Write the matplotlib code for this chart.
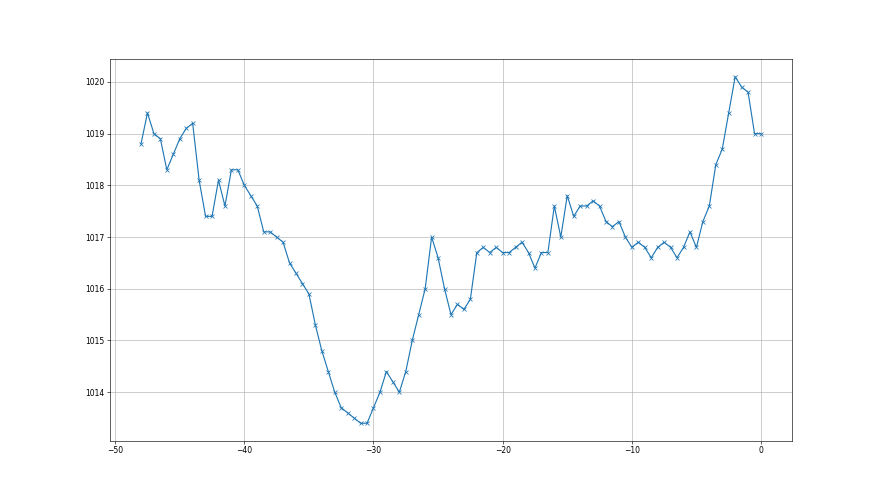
import matplotlib
matplotlib.use('Agg')
import matplotlib.pyplot as plt

# hours relative to now
hours = [-48.0, -47.5, -47.0, -46.5, -46.0, -45.5, -45.0, -44.5, -44.0, -43.5,
         -43.0, -42.5, -42.0, -41.5, -41.0, -40.5, -40.0, -39.5, -39.0, -38.5,
         -38.0, -37.5, -37.0, -36.5, -36.0, -35.5, -35.0, -34.5, -34.0, -33.5,
         -33.0, -32.5, -32.0, -31.5, -31.0, -30.5, -30.0, -29.5, -29.0, -28.5,
         -28.0, -27.5, -27.0, -26.5, -26.0, -25.5, -25.0, -24.5, -24.0, -23.5,
         -23.0, -22.5, -22.0, -21.5, -21.0, -20.5, -20.0, -19.5, -19.0, -18.5,
         -18.0, -17.5, -17.0, -16.5, -16.0, -15.5, -15.0, -14.5, -14.0, -13.5,
         -13.0, -12.5, -12.0, -11.5, -11.0, -10.5, -10.0, -9.5, -9.0, -8.5,
         -8.0, -7.5, -7.0, -6.5, -6.0, -5.5, -5.0, -4.5, -4.0, -3.5,
         -3.0, -2.5, -2.0, -1.5, -1.0, -0.5, 0.0]

# pressure readings (hPa)
pressure = [1018.8, 1019.4, 1019.0, 1018.9, 1018.3, 1018.6, 1018.9, 1019.1, 1019.2, 1018.1,
            1017.4, 1017.4, 1018.1, 1017.6, 1018.3, 1018.3, 1018.0, 1017.8, 1017.6, 1017.1,
            1017.1, 1017.0, 1016.9, 1016.5, 1016.3, 1016.1, 1015.9, 1015.3, 1014.8, 1014.4,
            1014.0, 1013.7, 1013.6, 1013.5, 1013.4, 1013.4, 1013.7, 1014.0, 1014.4, 1014.2,
            1014.0, 1014.4, 1015.0, 1015.5, 1016.0, 1017.0, 1016.6, 1016.0, 1015.5, 1015.7,
            1015.6, 1015.8, 1016.7, 1016.8, 1016.7, 1016.8, 1016.7, 1016.7, 1016.8, 1016.9,
            1016.7, 1016.4, 1016.7, 1016.7, 1017.6, 1017.0, 1017.8, 1017.4, 1017.6, 1017.6,
            1017.7, 1017.6, 1017.3, 1017.2, 1017.3, 1017.0, 1016.8, 1016.9, 1016.8, 1016.6,
            1016.8, 1016.9, 1016.8, 1016.6, 1016.8, 1017.1, 1016.8, 1017.3, 1017.6, 1018.4,
            1018.7, 1019.4, 1020.1, 1019.9, 1019.8, 1019.0, 1019.0]

fig, ax = plt.subplots(figsize=(16, 9), dpi=55)
ax.plot(hours, pressure, marker='x', color='#1f77b4')
ax.grid(True)
ax.ticklabel_format(axis='y', useOffset=False)

plt.savefig('out.png', dpi=55)
